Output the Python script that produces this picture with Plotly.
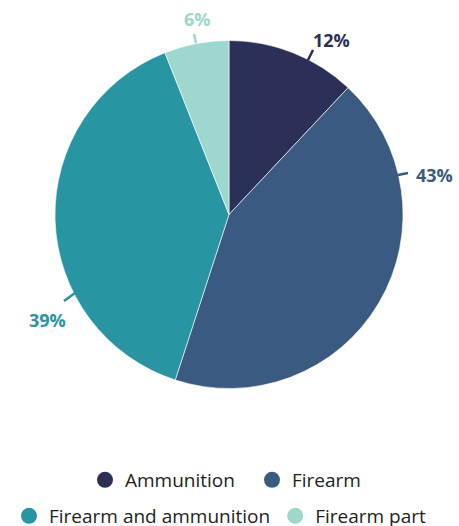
import plotly.graph_objects as go

categories = ["Ammunition", "Firearm", "Firearm and ammunition", "Firearm part"]
values = [12, 43, 39, 6]
colors = ["#2b3058", "#3a5a81", "#2795a2", "#9dd7cd"]

W, H = 459, 526

def px_x(x):
    return x / W

def px_y(y):
    return 1 - y / H

fig = go.Figure()

fig.add_trace(go.Pie(
    labels=categories,
    values=values,
    sort=False,
    direction="clockwise",
    rotation=0,
    marker=dict(colors=colors, line=dict(color="white", width=0.6)),
    textinfo="none",
    hoverinfo="label+percent",
    showlegend=False,
    domain=dict(x=[px_x(55), px_x(403)], y=[px_y(389), px_y(40)]),
))

# legend entries (two rows like the original)
for i, (cat, col) in enumerate(zip(categories, colors)):
    fig.add_trace(go.Scatter(
        x=[None], y=[None], mode="markers", name=cat,
        marker=dict(color=col, size=17),
        legend="legend" if i < 2 else "legend2",
    ))

# manual label placement: (text centre, tick start, tick end) in pixels
label_pos = [
    ((331, 40), (308, 60), (313, 50)),
    ((434, 175), (398, 175), (408, 173)),
    ((47, 320), (64, 301), (75, 293)),
    ((197, 19), (194, 34), (196, 43)),
]
for v, col, (c, t0, t1) in zip(values, colors, label_pos):
    fig.add_annotation(
        x=px_x(c[0]), y=px_y(c[1]), xref="paper", yref="paper",
        text=f"<b>{v}%</b>", showarrow=False,
        font=dict(size=18, color=col, family="Open Sans"),
        xanchor="center", yanchor="middle",
    )
    fig.add_shape(
        type="line", xref="paper", yref="paper",
        x0=px_x(t0[0]), y0=px_y(t0[1]), x1=px_x(t1[0]), y1=px_y(t1[1]),
        line=dict(color=col, width=2.5),
    )

legend_style = dict(
    orientation="h", yanchor="middle",
    font=dict(size=19, color="#231f20", family="Open Sans"),
    bgcolor="rgba(0,0,0,0)",
)
fig.update_layout(
    width=W, height=H,
    margin=dict(l=0, r=0, t=0, b=0, autoexpand=False),
    paper_bgcolor="white", plot_bgcolor="white",
    xaxis=dict(visible=False), yaxis=dict(visible=False),
    legend=dict(x=px_x(85), xanchor="left", y=px_y(480), entrywidth=122, **legend_style),
    legend2=dict(x=px_x(220), xanchor="center", y=px_y(516), **legend_style),
)

fig.write_html("out.html", config={"displayModeBar": False},
               post_script="document.body.style.margin='0px';")
